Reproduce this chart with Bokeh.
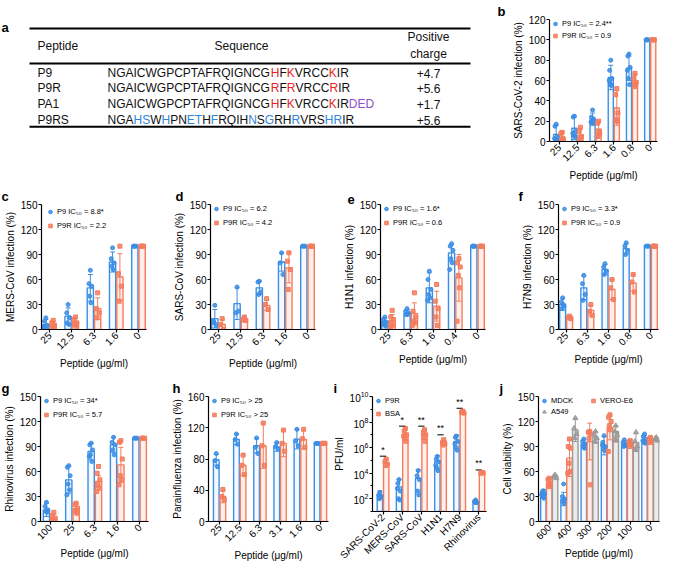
import math
from bokeh.plotting import figure
from bokeh.models import (Range1d, FixedTicker, Whisker, ColumnDataSource,
                          Legend, LegendItem, TeeHead)
from bokeh.layouts import row, column
from bokeh.embed import file_html
from bokeh.resources import INLINE
from bokeh.core.properties import value

FONT = "Liberation Sans"
BLUE = "#3B8EE5"
ORANGE = "#F47C5D"
GRAY = "#9A9A9A"
SEQ_COLORS = {"0": "#111111", "1": "#E8231F", "2": "#8E4EC6", "3": "#2F86D8"}

# ------------------------------------------------------------------ data
# (a) table
peptides = ["P9", "P9R", "PA1", "P9RS"]
sequences = ["NGAICWGPCPTAFRQIGNCGHFKVRCCKIR",
             "NGAICWGPCPTAFRQIGNCGRFRVRCCRIR",
             "NGAICWGPCPTAFRQIGNCGHFKVRCCKIRDED",
             "NGAHSWHPNETHFRQIHNSGRHRVRSHRIR"]
seq_color_codes = ["000000000000000000001010000100",
                   "000000000000000000001010000100",
                   "000000000000000000001010000100222",
                   "000330300330300003030030003300"]
charges = ["+4.7", "+5.6", "+1.7", "+5.6"]

# (b) SARS-CoV-2
b_cats = ["25", "12.5", "6.3", "1.6", "0.8", "0"]
b_p9_mean = [7, 13, 22, 63, 72, 100]
b_p9_err = [9, 11, 6, 12, 12, 0]
b_p9_pts = [[17, 15, 5, 2, 0, 3], [25, 24, 10, 6, 5, 8], [31, 24, 22, 20, 18, 19],
            [80, 70, 62, 57, 55, 60], [86, 84, 73, 62, 56, 70], [100, 100, 100, 100]]
b_p9r_mean = [4, 6, 12, 33, 60, 100]
b_p9r_err = [5, 7, 8, 17, 6, 0]
b_p9r_pts = [[9, 8, 2, 0, 3], [14, 10, 5, 2, 0], [20, 18, 8, 5, 10],
             [52, 46, 28, 22, 20], [67, 62, 58, 54, 56], [100, 100, 100]]

# (c) MERS-CoV
c_cats = ["25", "12.5", "6.3", "1.6", "0"]
c_p9_mean = [6, 16, 50, 81, 100]
c_p9_err = [6, 10, 16, 12, 0]
c_p9_pts = [[14, 10, 5, 2, 0, 3], [30, 20, 14, 8, 6], [71, 55, 52, 40, 32],
            [98, 85, 80, 76, 72], [100, 100, 100, 100]]
c_p9r_mean = [6, 9, 25, 63, 100]
c_p9r_err = [4, 5, 13, 28, 0]
c_p9r_pts = [[11, 8, 5, 3, 2], [15, 12, 8, 6, 4], [44, 25, 20, 14],
             [100, 67, 52, 34], [100, 100, 100]]

# (d) SARS-CoV
d_cats = ["25", "12.5", "6.3", "1.6", "0"]
d_p9_mean = [13, 31, 50, 81, 100]
d_p9_err = [11, 19, 8, 11, 0]
d_p9_pts = [[29, 10, 5, 8], [51, 20, 22], [58, 57, 45, 42], [92, 80, 66], [100, 100, 100]]
d_p9r_mean = [6, 12.5, 29, 74, 100]
d_p9r_err = [6, 3.5, 6, 18, 0]
d_p9r_pts = [[13, 6, 0], [15, 12, 11], [37, 30, 24], [92, 82, 72, 48], [100, 100, 100]]

# (e) H1N1
e_cats = ["25", "6.3", "1.6", "0.4", "0"]
e_p9_mean = [9, 20, 50, 92, 100]
e_p9_err = [5, 4, 18, 10, 0]
e_p9_pts = [[15, 12, 9, 6, 4, 8], [25, 22, 20, 18, 19], [70, 60, 48, 42, 38, 35],
            [103, 100, 95, 85, 80, 72], [100, 100, 100, 100]]
e_p9r_mean = [11, 19, 28, 62, 100]
e_p9r_err = [7, 13, 18, 28, 0]
e_p9r_pts = [[23, 15, 12, 8, 5, 3], [44, 22, 15, 10, 8, 5], [54, 34, 25, 15, 5],
             [85, 80, 75, 65, 50, 10], [100, 100, 100]]

# (f) H7N9
f_cats = ["25", "6.3", "1.6", "0.8", "0"]
f_p9_mean = [30, 50, 72, 97, 100]
f_p9_err = [7, 14, 6, 6, 0]
f_p9_pts = [[38, 33, 28, 25, 30], [65, 55, 42, 35], [79, 75, 70, 66],
            [104, 100, 95, 90], [100, 100, 100]]
f_p9r_mean = [15, 23, 48, 56, 100]
f_p9r_err = [2, 6, 12, 10, 0]
f_p9r_pts = [[16, 14, 13], [30, 22, 17], [60, 50, 36], [66, 57, 45], [100, 100, 100]]

# (g) Rhinovirus
g_cats = ["100", "25", "6.3", "1.6", "0"]
g_p9_mean = [14, 50, 84, 92, 100]
g_p9_err = [8, 16, 10, 9, 0]
g_p9_pts = [[23, 18, 14, 12, 11], [67, 65, 55, 45, 38, 32], [94, 92, 86, 80, 72, 78],
            [101, 95, 92, 86, 80], [100, 100, 100]]
g_p9r_mean = [3, 15, 48, 68, 100]
g_p9r_err = [6, 6, 7, 21, 0]
g_p9r_pts = [[11, 7, 4, 2, 1, 0], [22, 20, 16, 13, 10], [66, 58, 50, 44, 40, 36],
             [97, 95, 75, 55, 50, 44], [100, 100, 100]]

# (h) Parainfluenza
h_cats = ["25", "12.5", "6.3", "3.1", "1.6", "0"]
h_p9_mean = [79, 105, 97, 95.5, 105.5, 100]
h_p9_err = [7, 7, 9, 5.5, 12.5, 0]
h_p9_pts = [[87, 78, 70], [112, 105, 99], [107, 95, 87], [101, 96, 93],
            [118, 103, 97], [100, 100, 100]]
h_p9r_mean = [32, 72, 97, 100, 105, 100]
h_p9r_err = [8, 13, 29, 17, 12, 0]
h_p9r_pts = [[41, 32, 28], [85, 72, 60], [126, 97, 72], [117, 100, 90],
             [118, 106, 95], [100, 100, 100]]

# (i) PFU/ml
i_cats = ["SARS-CoV-2", "MERS-CoV", "SARS-CoV", "H1N1", "H7N9", "Rhinovirus"]
i_p9r_mean = [180, 850, 4000, 8e4, 3e6, 56]
i_p9r_upper = [400, 3200, 1.8e4, 2.5e5, 1e7, 80]
i_p9r_pts_log10 = [[2.5, 2.3, 2.2, 2.0, 2.1], [3.5, 3.2, 2.6, 2.0, 1.9, 2.8],
                   [4.2, 3.8, 3.5, 2.6, 2.3], [5.3, 5.1, 4.9, 4.4, 4.2, 4.6],
                   [6.9, 6.8, 6.5, 6.0, 5.8, 6.3], [1.9, 1.8, 1.7, 1.7]]
i_bsa_mean = [6.3e4, 1.1e7, 1.2e7, 2.1e6, 5.6e8, 1e4]
i_bsa_upper = [1.3e5, 4e7, 2.5e7, 5.6e6, 1e9, 1.6e4]
i_bsa_pts_log10 = [[5.1, 4.9, 4.7, 4.6], [7.5, 7.3, 7.0, 6.7, 6.5, 6.9],
                   [7.4, 7.2, 7.0, 6.8, 6.5], [6.6, 6.4, 6.3, 6.2, 6.4],
                   [8.8, 8.75, 8.7, 8.8], [4.05, 4.0, 4.02]]
i_sig = ["*", "*", "**", "**", "**", "**"]
i_sig_log10 = [5.33, 7.68, 7.68, 7.0, 9.08, 4.25]

# (j) Cell viability
j_cats = ["600", "400", "300", "200", "100", "0"]
j_mdck_mean = [33, 27, 93, 91, 93, 98]
j_mdck_err = [5, 8, 5, 11, 4, 5]
j_mdck_pts = [[37, 35, 33, 30, 28, 32], [45, 30, 27, 24, 22], [99, 96, 93, 90, 88],
              [103, 95, 90, 88, 85, 92], [98, 95, 93, 90, 91], [105, 102, 99, 96, 94, 97]]
j_vero_mean = [46, 76, 96, 113, 94, 97]
j_vero_err = [6, 22, 22, 15, 4, 4]
j_vero_pts = [[52, 50, 46, 44, 42], [99, 90, 88, 70, 60, 58], [108, 107, 105, 100, 44],
              [128, 125, 120, 115, 110, 84], [97, 95, 93, 90], [101, 99, 97, 95]]
j_a549_mean = [54, 110, 101, 108, 95, 99]
j_a549_err = [2, 14, 7, 7, 11, 2]
j_a549_pts = [[56, 54, 52], [124, 112, 105, 100], [108, 104, 100, 96],
              [115, 108, 104, 98, 97], [107, 96, 90, 87], [101, 99, 97]]

# ------------------------------------------------------------------ helpers
JIT = [0.0, -0.22, 0.22, -0.11, 0.11, -0.3, 0.3]
XLAB = "Peptide (\u03bcg/ml)"


def style_axis(ax):
    ax.axis_line_width = 1.2
    ax.axis_line_color = "black"
    ax.major_tick_line_color = "black"
    ax.major_tick_line_width = 1.2
    ax.major_tick_out = 3
    ax.major_tick_in = 0
    ax.minor_tick_line_color = None
    ax.major_label_text_font = FONT
    ax.major_label_text_font_size = "10px"
    ax.major_label_text_color = "black"
    ax.axis_label_text_font = FONT
    ax.axis_label_text_font_size = "10px"
    ax.axis_label_text_font_style = "normal"
    ax.axis_label_text_color = "black"
    ax.major_label_standoff = 1
    ax.axis_label_standoff = 2


def bar_panel(letter, cats, series, ylabel, xlabel, yticks, yrange, geom, leg,
              bw=0.28, log=False):
    fw, fh, bl, br, bt, bb, padL, padR, toff = geom
    n = len(cats)
    kw = dict(y_axis_type="log") if log else {}
    p = figure(frame_width=fw, frame_height=fh, min_border_left=bl, min_border_right=br,
               min_border_top=bt, min_border_bottom=bb,
               x_range=Range1d(-padL, n - 1 + padR), y_range=Range1d(*yrange),
               output_backend="svg", toolbar_location=None, **kw)
    p.grid.visible = False
    p.outline_line_color = None
    p.background_fill_color = "white"
    p.title.text = letter
    p.title.align = "left"
    p.title.offset = toff
    p.title.standoff = 2
    p.title.text_font = FONT
    p.title.text_font_size = "13px"
    p.title.text_font_style = "bold"
    p.title.text_color = "black"
    y0 = yrange[0]
    rends = []
    for s in series:
        xs = [i + s["off"] for i in range(n)]
        p.vbar(x=xs, top=s["mean"], bottom=y0, width=bw, fill_color=s["color"],
               fill_alpha=s["fa"], line_color=s["color"], line_width=1.4)
    for s in series:
        bx, up, lo = [], [], []
        for i in range(n):
            if log:
                if s["upper"][i] > s["mean"][i]:
                    bx.append(i + s["off"]); up.append(s["upper"][i]); lo.append(s["mean"][i])
            elif s["err"][i] > 0:
                bx.append(i + s["off"]); up.append(s["mean"][i] + s["err"][i])
                lo.append(max(y0, s["mean"][i] - s["err"][i]))
        src = ColumnDataSource(dict(base=bx, upper=up, lower=lo))
        wk = Whisker(source=src, base="base", upper="upper", lower="lower",
                     line_color=s["color"], line_width=1, level="glyph",
                     upper_head=TeeHead(size=5, line_color=s["color"], line_width=1),
                     lower_head=None if log else TeeHead(size=5, line_color=s["color"], line_width=1))
        p.add_layout(wk)
    for s in series:
        px, py = [], []
        for i, lst in enumerate(s["pts"]):
            for k, v in enumerate(lst):
                px.append(i + s["off"] + JIT[k % len(JIT)] * bw)
                py.append(10 ** v if log else v)
        r = p.scatter(px, py, marker=s["marker"], size=s.get("ms", 4),
                      fill_color=s["color"], line_color=s["color"], fill_alpha=0.85)
        rends.append(r)
    # legend
    order, margin, spacing, ncols, lw = leg
    items = [LegendItem(label=series[k]["label"], renderers=[rends[k]]) for k in order]
    lg = Legend(items=items, location="top_left", orientation="vertical",
                label_text_font=FONT, label_text_font_size="7.5px",
                label_text_color="black", glyph_width=12, glyph_height=9,
                label_height=9, label_standoff=1, spacing=spacing, padding=0,
                margin=margin, background_fill_alpha=0, border_line_alpha=0)
    if ncols:
        lg.ncols = ncols
        lg.label_width = lw
    p.add_layout(lg)
    # axes
    style_axis(p.xaxis[0])
    style_axis(p.yaxis[0])
    p.xaxis.ticker = FixedTicker(ticks=list(range(n)))
    p.xaxis.major_label_overrides = {i: c for i, c in enumerate(cats)}
    p.xaxis.major_label_orientation = math.pi / 4
    if xlabel:
        p.xaxis.axis_label = xlabel
    p.yaxis.axis_label = ylabel
    if log:
        p.yaxis.ticker = FixedTicker(ticks=yticks, minor_ticks=[10 ** (2 * k + 1) for k in range(5)])
        p.yaxis.minor_tick_line_color = "black"
        p.yaxis.minor_tick_out = 2
        p.yaxis.minor_tick_in = 0
    else:
        p.yaxis.ticker = FixedTicker(ticks=yticks)
    return p


def two(p9m, p9e, p9p, rm, re_, rp, l1, l2):
    return [dict(label=l1, color=BLUE, marker="circle", mean=p9m, err=p9e, pts=p9p, off=-0.165, fa=0.05),
            dict(label=l2, color=ORANGE, marker="square", mean=rm, err=re_, pts=rp, off=0.165, fa=0.12)]


# ------------------------------------------------------------------ table (a)
W_TAB, H_TAB = 495, 184
CW = {"A": 667, "C": 722, "D": 722, "E": 667, "F": 611, "G": 778, "H": 722, "I": 278,
      "K": 667, "N": 722, "P": 667, "Q": 778, "R": 722, "S": 667, "T": 611, "V": 667, "W": 944}
FS = 12.0
ta = figure(width=W_TAB, height=H_TAB, x_range=Range1d(0, W_TAB), y_range=Range1d(H_TAB, 0),
            min_border=0, output_backend="svg", toolbar_location=None)
ta.axis.visible = False
ta.grid.visible = False
ta.outline_line_color = None
ta.segment(x0=[29, 29, 29], x1=[470, 470, 470], y0=[13.5, 67, 163], y1=[13.5, 67, 163],
           line_color="black", line_width=2)
tx, ty, tt, tc, tal = [], [], [], [], []


def put(x, y, t, c="#111111", al="left"):
    tx.append(x); ty.append(y); tt.append(t); tc.append(c); tal.append(al)


put(37, 41, "Peptide")
put(241, 41, "Sequence", al="center")
put(428, 27, "Positive", al="center")
put(428, 53, "charge", al="center")
row_y = [82, 104.5, 129, 153]
for k, pep in enumerate(peptides):
    put(37, row_y[k], pep)
    put(428, row_y[k], charges[k], al="center")
    seq, codes = sequences[k], seq_color_codes[k]
    x = 107.0
    j = 0
    while j < len(seq):
        c0 = codes[j]
        run = ""
        while j < len(seq) and codes[j] == c0:
            run += seq[j]
            j += 1
        put(x, row_y[k], run, SEQ_COLORS[c0])
        x += sum(CW[ch] for ch in run) / 1000.0 * FS
ta.text(x=tx, y=ty, text=tt, text_color=tc, text_align=tal, text_baseline="middle",
        text_font=value(FONT), text_font_size="12px")
ta.text(x=[1], y=[1], text=["a"], text_baseline="top", text_font=value(FONT),
        text_font_size="13px", text_font_style="bold", text_color="black")

# ------------------------------------------------------------------ panels
# geom: frame_w, frame_h, border l, r, t, b, pad left, pad right, title offset
# leg: item order, margin, spacing, ncols, label_width
pb = bar_panel("b", b_cats, two(b_p9_mean, b_p9_err, b_p9_pts, b_p9r_mean, b_p9r_err, b_p9r_pts,
                                "P9 IC\u2085\u2080 = 2.4**", "P9R IC\u2085\u2080 = 0.9"),
               "SARS-CoV-2 infection (%)", XLAB, [0, 20, 40, 60, 80, 100, 120], (0, 120),
               (108, 122, 54, 3, 18, 44, 0.53, 0.4, -52), ([0, 1], 0, 3, None, None))

T150 = [0, 30, 60, 90, 120, 150]
pc = bar_panel("c", c_cats, two(c_p9_mean, c_p9_err, c_p9_pts, c_p9r_mean, c_p9r_err, c_p9r_pts,
                                "P9 IC\u2085\u2080 = 8.8*", "P9R IC\u2085\u2080 = 2.2"),
               "MERS-CoV infection (%)", XLAB, T150, (0, 150),
               (105, 125, 41, 24, 18, 41, 0.36, 0.36, -40), ([0, 1], 3, 5, None, None))
pd_ = bar_panel("d", d_cats, two(d_p9_mean, d_p9_err, d_p9_pts, d_p9r_mean, d_p9r_err, d_p9r_pts,
                                 "P9 IC\u2085\u2080 = 6.2", "P9R IC\u2085\u2080 = 4.2"),
                "SARS-CoV infection (%)", XLAB, T150, (0, 150),
                (105, 125, 37, 25, 18, 41, 0.36, 0.36, -35), ([0, 1], 0, 5, None, None))
pe = bar_panel("e", e_cats, two(e_p9_mean, e_p9_err, e_p9_pts, e_p9r_mean, e_p9r_err, e_p9r_pts,
                                "P9 IC\u2085\u2080 = 1.6*", "P9R IC\u2085\u2080 = 0.6"),
               "H1N1 infection (%)", XLAB, T150, (0, 150),
               (105, 125, 35, 28, 18, 41, 0.36, 0.36, -33), ([0, 1], 0, 5, None, None))
pf = bar_panel("f", f_cats, two(f_p9_mean, f_p9_err, f_p9_pts, f_p9r_mean, f_p9r_err, f_p9r_pts,
                                "P9 IC\u2085\u2080 = 3.3*", "P9R IC\u2085\u2080 = 0.9"),
               "H7N9 infection (%)", XLAB, T150, (0, 150),
               (100, 125, 45, 10, 18, 41, 0.36, 0.36, -40), ([0, 1], 0, 5, None, None))

pg = bar_panel("g", g_cats, two(g_p9_mean, g_p9_err, g_p9_pts, g_p9r_mean, g_p9r_err, g_p9r_pts,
                                "P9 IC\u2085\u2080 = 34*", "P9R IC\u2085\u2080 = 5.7"),
               "Rhinovirus infection (%)", XLAB, T150, (0, 150),
               (108, 125, 40, 20, 25, 41, 0.43, 0.4, -39), ([0, 1], 0, 5, None, None))
ph = bar_panel("h", h_cats, two(h_p9_mean, h_p9_err, h_p9_pts, h_p9r_mean, h_p9r_err, h_p9r_pts,
                                "P9 IC\u2085\u2080 > 25", "P9R IC\u2085\u2080 > 25"),
               "Parainfluenza infection (%)", XLAB, [0, 40, 80, 120, 160], (0, 160),
               (120, 125, 36, 2, 25, 41, 0.55, 0.4, -36), ([0, 1], 0, 5, None, None))

i_series = [dict(label="P9R", color=BLUE, marker="circle", mean=i_p9r_mean, upper=i_p9r_upper,
                 pts=i_p9r_pts_log10, off=-0.165, fa=0.05),
            dict(label="BSA", color=ORANGE, marker="square", mean=i_bsa_mean, upper=i_bsa_upper,
                 pts=i_bsa_pts_log10, off=0.165, fa=0.12)]
pi_ = bar_panel("i", i_cats, i_series, "PFU/ml", None, [1e2, 1e4, 1e6, 1e8, 1e10], (10, 1e10),
                (114, 115, 41, 12, 25, 51, 0.55, 0.4, -39), ([0, 1], 0, 4, None, None), log=True)
pi_.segment(x0=[k - 0.165 for k in range(len(i_cats))], x1=[k + 0.165 for k in range(len(i_cats))],
            y0=[10 ** v for v in i_sig_log10], y1=[10 ** v for v in i_sig_log10],
            line_color="black", line_width=1)
pi_.text(x=list(range(len(i_cats))), y=[10 ** (v + 0.12) for v in i_sig_log10], text=i_sig,
         text_align="center", text_baseline="bottom", text_font=value(FONT),
         text_font_size="9px", text_color="black")

j_series = [dict(label="MDCK", color=BLUE, marker="circle", mean=j_mdck_mean, err=j_mdck_err,
                 pts=j_mdck_pts, off=-0.29, fa=0.05),
            dict(label="VERO-E6", color=ORANGE, marker="square", mean=j_vero_mean, err=j_vero_err,
                 pts=j_vero_pts, off=0.0, fa=0.12),
            dict(label="A549", color=GRAY, marker="triangle", mean=j_a549_mean, err=j_a549_err,
                 pts=j_a549_pts, off=0.29, fa=0.2, ms=5)]
pj = bar_panel("j", j_cats, j_series, "Cell viability (%)", XLAB, T150, (0, 150),
               (121, 125, 40, 6, 25, 41, 0.53, 0.45, -39), ([0, 2, 1], 0, 2, 2, 34), bw=0.27)

layout = column(row(ta, pb), row(pc, pd_, pe, pf), row(pg, ph, pi_, pj))
open("out.html", "w").write(file_html(layout, INLINE))
